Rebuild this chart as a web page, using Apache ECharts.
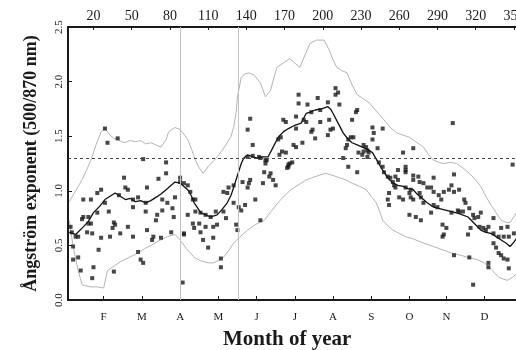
<!DOCTYPE html>
<html>
<head>
<meta charset="utf-8">
<script src="https://cdn.jsdelivr.net/npm/echarts@6/dist/echarts.min.js"></script>
<style>
  html, body { margin: 0; padding: 0; background: #fff; }
  #chart { width: 516px; height: 350px; }
</style>
</head>
<body>
<div id="chart"></div>
<script>
// Day-of-year ticks along the top axis, month initials along the bottom axis
const dayTicks = [20, 50, 80, 110, 140, 170, 200, 230, 260, 290, 320, 350];
const monthTicks = [28, 58, 88, 118, 148, 178, 208, 238, 268, 297, 327];
const monthLabels = ['F', 'M', 'A', 'M', 'J', 'J', 'A', 'S', 'O', 'N', 'D'];

// Reference levels: threshold exponent and two day-of-year markers
const thresholdLevel = 1.3;
const periodMarks = [88, 134];

// Running mean of the daily exponent [day, value]
const runningMean = [
  [1, 0.62], [6, 0.60], [12, 0.67], [16, 0.72], [20, 0.80], [25, 0.86], [29, 0.92], [33, 0.95],
  [37, 0.98], [41, 0.95], [45, 0.92], [49, 0.93], [53, 0.90], [57, 0.91], [61, 0.89],
  [65, 0.91], [69, 0.94], [73, 0.97], [77, 1.01], [81, 1.05], [84, 1.08], [88, 1.07],
  [91, 1.04], [94, 1.01], [97, 0.95], [99, 0.89], [102, 0.84], [104, 0.80], [108, 0.78],
  [112, 0.76], [117, 0.78], [121, 0.83], [125, 0.89], [128, 0.96], [130, 1.03], [133, 1.14],
  [136, 1.25], [138, 1.30], [141, 1.33], [145, 1.31], [149, 1.30], [153, 1.31], [157, 1.31],
  [161, 1.40], [165, 1.49], [169, 1.54], [173, 1.57], [178, 1.60], [183, 1.62], [187, 1.71],
  [190, 1.72], [194, 1.74], [199, 1.75], [204, 1.77], [206, 1.75], [208, 1.71], [212, 1.62],
  [216, 1.53], [220, 1.47], [223, 1.44], [227, 1.42], [231, 1.40], [235, 1.38], [239, 1.35],
  [243, 1.27], [247, 1.19], [251, 1.12], [255, 1.07], [259, 1.05], [263, 1.04], [267, 1.02],
  [271, 1.01], [274, 0.97], [277, 0.94], [282, 0.89], [287, 0.85], [294, 0.83], [301, 0.81],
  [307, 0.79], [314, 0.76], [319, 0.70], [324, 0.64], [328, 0.62], [332, 0.61], [336, 0.58],
  [340, 0.55], [344, 0.52], [347, 0.49], [350, 0.53], [353, 0.58]
];

// Upper envelope of the daily values [day, value]
const upperBound = [
  [1, 0.90], [6, 1.00], [11, 1.10], [15, 1.20], [18, 1.28], [22, 1.42], [26, 1.54], [29, 1.57],
  [33, 1.51], [36, 1.48], [39, 1.47], [44, 1.44], [49, 1.46], [53, 1.45], [57, 1.46],
  [61, 1.43], [65, 1.44], [69, 1.42], [73, 1.40], [77, 1.47], [79, 1.54], [84, 1.58],
  [88, 1.56], [91, 1.52], [94, 1.47], [97, 1.38], [100, 1.28], [103, 1.21], [106, 1.16],
  [110, 1.22], [114, 1.27], [117, 1.31], [121, 1.37], [125, 1.44], [128, 1.50], [130, 1.58],
  [132, 1.72], [133, 1.86], [136, 2.04], [139, 2.07], [142, 2.08], [146, 2.06], [151, 1.99],
  [155, 1.86], [159, 1.92], [162, 2.05], [164, 2.13], [169, 2.17], [174, 2.21], [178, 2.17],
  [182, 2.13], [187, 2.27], [190, 2.35], [195, 2.38], [201, 2.38], [205, 2.29], [208, 2.20],
  [211, 2.13], [215, 2.10], [219, 2.08], [223, 1.97], [227, 1.88], [232, 1.84], [237, 1.80],
  [242, 1.73], [248, 1.65], [253, 1.58], [258, 1.53], [263, 1.51], [268, 1.49], [273, 1.45],
  [279, 1.40], [283, 1.33], [287, 1.28], [291, 1.26], [295, 1.25], [300, 1.26], [305, 1.25],
  [310, 1.21], [315, 1.16], [320, 1.10], [324, 1.04], [328, 0.95], [332, 0.87], [336, 0.80],
  [340, 0.73], [344, 0.71], [347, 0.71], [350, 0.76], [353, 0.82]
];

// Lower envelope of the daily values [day, value]
const lowerBound = [
  [1, 0.73], [4, 0.49], [6, 0.38], [8, 0.27], [11, 0.14], [14, 0.13], [18, 0.12], [23, 0.12],
  [28, 0.11], [31, 0.27], [36, 0.31], [41, 0.35], [48, 0.39], [55, 0.43], [60, 0.47],
  [65, 0.50], [71, 0.54], [78, 0.58], [84, 0.60], [88, 0.55], [93, 0.47], [99, 0.39],
  [104, 0.36], [110, 0.34], [114, 0.34], [118, 0.36], [122, 0.39], [126, 0.45], [130, 0.52],
  [135, 0.58], [141, 0.64], [147, 0.69], [154, 0.73], [160, 0.82], [167, 0.92], [175, 1.01],
  [183, 1.07], [187, 1.10], [194, 1.13], [202, 1.16], [208, 1.14], [213, 1.12], [218, 1.10],
  [223, 1.07], [229, 1.04], [234, 1.01], [238, 0.95], [242, 0.89], [245, 0.80], [247, 0.73],
  [251, 0.68], [255, 0.64], [260, 0.61], [265, 0.58], [271, 0.56], [277, 0.53], [282, 0.51],
  [287, 0.49], [294, 0.46], [301, 0.43], [308, 0.41], [314, 0.39], [321, 0.37], [327, 0.34],
  [333, 0.27], [338, 0.21], [342, 0.19], [345, 0.18], [349, 0.21], [353, 0.25]
];

// Daily observations [day, value]
const dailyObs = [
  [2, 0.67], [3, 0.62], [4, 0.49], [4, 0.37], [6, 0.58], [8, 0.58], [8, 0.39], [10, 0.27],
  [11, 0.74], [12, 0.92], [12, 0.76], [15, 0.62], [16, 0.70], [16, 0.76], [18, 0.92], [18, 0.70],
  [19, 0.61], [19, 0.20], [20, 0.30], [23, 0.98], [23, 0.80], [24, 0.46], [26, 1.01], [26, 0.57],
  [29, 1.57], [29, 0.89], [31, 1.44], [32, 0.81], [33, 0.58], [35, 0.66], [36, 0.71], [36, 0.26],
  [37, 0.69], [39, 1.48], [40, 0.96], [41, 0.61], [44, 1.12], [45, 1.03], [47, 1.01], [47, 0.67],
  [51, 0.92], [51, 0.85], [51, 0.58], [55, 0.94], [55, 0.44], [57, 0.37], [59, 1.29], [59, 0.34],
  [61, 0.89], [61, 0.81], [62, 1.03], [62, 0.64], [66, 0.55], [67, 0.58], [69, 0.73], [70, 0.78],
  [71, 1.11], [73, 0.57], [74, 0.92], [74, 0.82], [77, 1.26], [77, 1.16], [78, 0.89], [81, 0.62],
  [82, 0.84], [83, 0.76], [84, 0.94], [88, 1.12], [88, 1.08], [90, 0.16], [91, 1.07], [91, 0.61],
  [91, 0.60], [94, 1.05], [94, 0.78], [96, 0.99], [98, 0.92], [98, 0.70], [99, 0.66], [100, 0.92],
  [100, 0.81], [103, 0.70], [104, 0.80], [104, 0.62], [106, 0.55], [108, 0.78], [108, 0.67],
  [110, 0.48], [112, 0.76], [114, 0.67], [114, 0.57], [116, 0.81], [117, 0.69], [120, 0.38],
  [120, 0.30], [122, 0.99], [122, 0.81], [124, 0.75], [125, 0.98], [126, 1.03], [130, 1.05],
  [130, 0.89], [132, 0.69], [133, 0.64], [134, 0.85], [136, 0.82], [137, 1.08], [139, 0.87],
  [141, 1.56], [141, 1.31], [141, 1.03], [142, 1.07], [143, 1.66], [143, 1.10], [145, 1.42],
  [145, 1.32], [147, 0.92], [150, 1.31], [151, 1.30], [151, 0.73], [153, 1.07], [154, 1.17],
  [155, 1.28], [155, 1.25], [156, 1.28], [158, 1.13], [159, 1.16], [161, 1.10], [163, 1.05],
  [165, 1.47], [166, 1.33], [167, 1.49], [168, 1.36], [169, 1.65], [171, 1.63], [171, 1.35],
  [172, 1.21], [173, 1.24], [173, 1.22], [174, 1.25], [176, 1.26], [177, 1.42], [179, 1.68],
  [179, 1.57], [179, 1.40], [181, 1.88], [181, 1.80], [184, 1.44], [185, 1.65], [187, 1.63],
  [188, 1.79], [191, 1.72], [191, 1.54], [192, 1.56], [194, 1.48], [196, 1.85], [198, 1.74],
  [198, 1.63], [204, 1.81], [204, 1.51], [205, 1.65], [206, 1.56], [208, 1.57], [210, 1.94],
  [210, 1.88], [212, 1.90], [213, 1.79], [216, 1.30], [218, 1.39], [219, 1.42], [220, 1.47],
  [220, 1.22], [222, 1.49], [223, 1.65], [224, 1.49], [226, 1.72], [227, 1.74], [227, 1.17],
  [228, 1.35], [231, 1.33], [232, 1.42], [232, 1.36], [234, 1.40], [235, 1.37], [235, 1.31],
  [236, 1.35], [239, 1.58], [239, 1.47], [240, 1.53], [243, 1.39], [244, 1.26], [247, 1.57],
  [247, 1.22], [248, 1.17], [251, 1.13], [251, 0.92], [252, 0.98], [252, 0.87], [253, 1.12],
  [255, 1.08], [256, 1.05], [257, 1.13], [257, 1.03], [259, 1.10], [259, 1.19], [260, 0.94],
  [263, 1.35], [263, 0.92], [265, 1.22], [265, 1.17], [265, 1.19], [265, 1.03], [268, 0.98],
  [268, 0.78], [269, 1.01], [269, 0.94], [271, 1.39], [271, 1.14], [271, 1.10], [271, 0.92],
  [273, 0.76], [275, 1.13], [276, 1.08], [276, 0.98], [277, 0.94], [277, 0.73], [279, 1.07],
  [279, 0.89], [282, 1.03], [285, 1.03], [285, 0.80], [287, 1.12], [287, 0.99], [287, 0.87],
  [290, 0.85], [291, 0.96], [293, 0.92], [294, 0.69], [294, 0.58], [295, 0.99], [295, 0.60],
  [297, 0.66], [299, 1.01], [301, 1.05], [301, 0.80], [302, 1.62], [303, 1.15], [303, 0.99],
  [303, 0.41], [306, 0.82], [307, 1.01], [307, 0.81], [310, 0.81], [311, 0.92], [312, 0.89],
  [314, 0.60], [315, 0.84], [315, 0.39], [316, 0.66], [318, 0.78], [318, 0.14], [319, 0.75],
  [322, 0.76], [323, 0.67], [324, 0.80], [326, 0.66], [328, 0.64], [330, 0.67], [330, 0.34],
  [330, 0.30], [334, 0.75], [334, 0.61], [334, 0.52], [336, 0.48], [338, 0.58], [338, 0.43],
  [340, 0.66], [340, 0.41], [342, 0.58], [342, 0.38], [345, 0.67], [345, 0.37], [346, 0.58],
  [346, 0.29], [349, 1.24], [350, 0.61]
];

const serif = '"Liberation Serif", "DejaVu Serif", serif';
const ink = '#1a1a1a';

const chart = echarts.init(document.getElementById('chart'), null, { renderer: 'canvas' });

const baseX = {
  type: 'value',
  min: 0,
  max: 365,
  splitLine: { show: false },
  axisLine: { show: true, onZero: false, lineStyle: { color: ink, width: 2 } }
};

chart.setOption({
  animation: false,
  backgroundColor: '#fff',
  title: {
    text: 'Month of year',
    left: 218,
    top: 324,
    textStyle: { fontFamily: serif, fontWeight: 'bold', fontSize: 21, color: ink }
  },
  grid: { left: 68, top: 27, width: 465, height: 273, outerBoundsMode: 'none' },
  xAxis: [
    Object.assign({}, baseX, {
      position: 'bottom',
      axisTick: { show: true, inside: true, length: 4, customValues: monthTicks, lineStyle: { color: ink } },
      axisLabel: {
        customValues: monthTicks,
        margin: 12,
        fontFamily: serif,
        fontSize: 11,
        color: ink,
        formatter: v => monthLabels[monthTicks.indexOf(Math.round(v))] || ''
      }
    }),
    Object.assign({}, baseX, {
      position: 'top',
      axisTick: { show: true, inside: true, length: 3, customValues: dayTicks, lineStyle: { color: ink } },
      axisLabel: {
        customValues: dayTicks,
        margin: 4,
        fontFamily: serif,
        fontSize: 14,
        color: ink,
        formatter: v => String(Math.round(v))
      }
    })
  ],
  yAxis: {
    type: 'value',
    min: 0,
    max: 2.5,
    interval: 0.5,
    splitLine: { show: false },
    axisLine: { show: true, lineStyle: { color: ink, width: 2 } },
    axisTick: { show: true, inside: true, length: 4, lineStyle: { color: ink } },
    axisLabel: {
      rotate: 90,
      margin: 3,
      fontFamily: serif,
      fontSize: 11,
      color: ink,
      align: 'center',
      verticalAlign: 'bottom',
      formatter: v => v.toFixed(1)
    },
    name: 'Ångström exponent (500/870 nm)',
    nameLocation: 'middle',
    nameRotate: 90,
    nameGap: 28,
    nameTextStyle: { fontFamily: serif, fontWeight: 'bold', fontSize: 18, color: ink }
  },
  series: [
    {
      name: 'upper',
      type: 'line',
      data: upperBound,
      showSymbol: false,
      lineStyle: { color: '#b4b4b4', width: 1 },
      silent: true,
      z: 2
    },
    {
      name: 'lower',
      type: 'line',
      data: lowerBound,
      showSymbol: false,
      lineStyle: { color: '#b4b4b4', width: 1 },
      silent: true,
      z: 2
    },
    {
      name: 'reference',
      type: 'line',
      data: [],
      silent: true,
      markLine: {
        symbol: 'none',
        silent: true,
        label: { show: false },
        data: [
          ...periodMarks.map(d => ({ xAxis: d, lineStyle: { color: '#c4c4c4', width: 1, type: 'solid' } })),
          { yAxis: thresholdLevel, lineStyle: { color: '#444', width: 1, type: [3, 3] } }
        ]
      },
      z: 1
    },
    {
      name: 'mean',
      type: 'line',
      data: runningMean,
      showSymbol: false,
      lineStyle: { color: '#111', width: 1.3 },
      silent: true,
      z: 3
    },
    {
      name: 'daily',
      type: 'scatter',
      data: dailyObs,
      symbol: 'rect',
      symbolSize: 4,
      itemStyle: { color: '#1a1a1a' },
      silent: true,
      z: 4
    }
  ]
});
</script>
</body>
</html>
